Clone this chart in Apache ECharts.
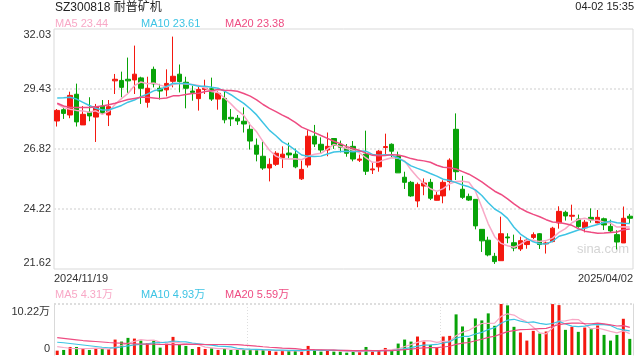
<!DOCTYPE html>
<html><head><meta charset="utf-8">
<script src="https://cdn.jsdelivr.net/npm/echarts@6/dist/echarts.min.js"></script>
<style>html,body{margin:0;padding:0;background:#fff}#c{width:640px;height:360px}</style>
</head><body><div id="c"></div>
<script>
const dates = ['2024/11/19','2024/11/20','2024/11/21','2024/11/22','2024/11/25','2024/11/26','2024/11/27','2024/11/28','2024/11/29',
'2024/12/02','2024/12/03','2024/12/04','2024/12/05','2024/12/06','2024/12/09','2024/12/10','2024/12/11','2024/12/12','2024/12/13',
'2024/12/16','2024/12/17','2024/12/18','2024/12/19','2024/12/20','2024/12/23','2024/12/24','2024/12/25','2024/12/26','2024/12/27','2024/12/30','2024/12/31',
'2025/01/02','2025/01/03','2025/01/06','2025/01/07','2025/01/08','2025/01/09','2025/01/10','2025/01/13','2025/01/14','2025/01/15','2025/01/16','2025/01/17',
'2025/01/20','2025/01/21','2025/01/22','2025/01/23','2025/01/24','2025/01/27',
'2025/02/05','2025/02/06','2025/02/07','2025/02/10','2025/02/11','2025/02/12','2025/02/13','2025/02/14','2025/02/17','2025/02/18','2025/02/19','2025/02/20','2025/02/21',
'2025/02/24','2025/02/25','2025/02/26','2025/02/27','2025/02/28',
'2025/03/03','2025/03/04','2025/03/05','2025/03/06','2025/03/07','2025/03/10','2025/03/11','2025/03/12','2025/03/13','2025/03/14','2025/03/17','2025/03/18','2025/03/19','2025/03/20','2025/03/21',
'2025/03/24','2025/03/25','2025/03/26','2025/03/27','2025/03/28','2025/03/31','2025/04/01','2025/04/02'];

const opens = [28.04,28.53,28.30,29.20,27.87,28.42,28.21,28.69,28.30,29.78,29.80,29.85,29.82,29.91,28.85,30.28,29.46,29.39,29.76,30.07,
29.72,29.34,29.01,29.41,29.44,28.99,29.02,28.20,28.16,28.03,27.68,26.99,26.51,26.00,26.16,26.45,26.65,26.60,25.53,26.13,
27.38,27.03,26.78,27.28,27.03,26.86,26.94,26.34,26.60,25.92,26.05,26.89,27.03,26.52,25.60,25.38,24.57,25.22,25.38,24.60,
24.79,25.41,27.68,25.08,24.77,24.64,23.34,22.87,22.17,21.98,23.01,22.76,22.49,22.68,22.99,23.15,22.71,22.81,23.62,24.08,
23.91,23.79,23.41,23.86,23.62,23.80,23.47,23.11,22.75,23.91];
const closes = [28.50,28.37,29.15,28.00,28.33,28.26,28.66,28.37,28.66,29.85,29.50,29.78,30.07,29.46,29.46,29.65,29.34,29.67,29.98,29.75,
29.46,29.28,29.41,29.46,28.99,29.24,28.09,28.13,28.04,27.91,27.17,26.60,26.00,26.16,26.64,26.60,26.57,26.05,25.94,27.38,
27.04,26.78,26.94,26.99,26.90,26.64,26.39,26.39,25.86,25.96,26.73,26.93,26.73,25.79,25.38,24.79,25.29,25.35,24.69,24.82,
25.38,26.34,25.84,24.73,24.61,23.49,22.84,22.23,21.94,23.15,22.97,22.53,22.85,22.87,23.11,22.68,22.75,23.39,24.12,23.92,
23.95,23.46,23.65,23.75,23.86,23.53,23.27,22.79,23.82,23.82];
const highs = [28.56,28.63,29.31,29.66,28.69,29.07,28.78,28.95,28.95,30.08,30.18,30.79,31.31,29.96,29.96,30.40,29.65,30.28,31.70,30.49,
29.96,29.57,29.53,29.83,29.92,29.33,29.33,28.56,28.30,28.63,27.97,27.28,27.15,26.42,26.73,26.94,27.10,26.84,26.32,27.64,
27.87,27.33,27.54,27.28,27.19,27.04,27.17,26.58,27.62,26.25,26.78,27.49,27.07,26.71,25.84,25.44,25.37,25.55,25.53,24.96,
25.47,26.42,28.37,25.66,24.89,24.64,23.34,23.02,22.32,23.89,23.17,23.11,23.02,22.97,23.21,23.18,22.81,23.45,24.34,24.15,
24.41,23.98,23.75,24.25,24.18,23.85,23.76,23.30,24.33,24.01];
const lows = [27.80,28.13,28.16,27.80,27.87,28.03,27.13,28.35,27.82,29.21,29.07,29.26,29.21,28.78,28.62,29.50,28.97,29.11,29.50,29.28,
28.59,28.92,28.49,29.21,28.91,28.53,27.94,27.82,27.87,27.54,26.80,26.29,25.92,25.42,26.09,26.00,26.42,25.99,25.48,26.02,
26.91,26.65,26.51,26.83,26.68,26.49,26.29,26.26,25.70,25.74,25.84,26.55,26.47,25.79,25.09,24.75,24.30,24.82,24.61,24.59,
24.47,25.03,25.48,24.66,24.57,23.34,22.36,22.17,21.84,21.98,22.74,22.39,22.40,22.50,22.92,22.49,22.29,22.78,23.37,23.72,
23.72,23.41,23.21,23.63,23.60,23.31,23.23,22.47,22.75,23.60];
// volume in 万
const volumes = [0.87,1.01,1.61,1.61,1.28,1.01,1.28,1.28,1.14,3.09,2.69,3.43,3.29,2.89,2.35,2.96,1.48,2.29,3.63,2.08,
1.82,1.21,1.61,1.21,1.34,1.01,1.21,1.01,1.01,1.01,1.01,1.01,1.01,0.81,0.67,0.87,0.87,0.87,0.67,1.82,
1.01,0.67,1.01,0.67,0.67,0.47,0.74,0.67,1.61,0.67,0.81,1.41,0.87,2.29,3.09,2.69,3.70,2.69,2.02,1.55,
3.70,3.83,8.14,5.72,3.43,7.33,6.93,8.34,5.85,10.22,9.95,5.65,4.51,2.89,4.84,4.30,4.71,10.2,10.0,5.04,
5.65,4.64,5.51,5.31,5.92,4.03,2.89,4.03,7.26,3.23];

// moving-average values for the first days (their windows start before the visible range)
const ma5Head = [28.78,28.62,28.55,28.50];
const ma10Head = [29.04,29.05,29.07,28.99,28.85,28.71,28.59,28.52,28.52];
const ma20Head = [28.81,28.69,28.63,28.62,28.62,28.63,28.66,28.69,28.74,28.81,28.89,28.97,29.02,29.07,29.07,29.04,29.01,29.04,29.13];
const vma5Head = [1.68,1.50,1.35,1.28];
const vma10Head = [2.56,2.45,2.30,2.15,2.00,1.85,1.70,1.55,1.45];
const vma20Head = [3.50,3.35,3.20,3.05,2.90,2.80,2.70,2.60,2.50,2.42,2.36,2.30,2.25,2.20,2.18,2.15,2.12,2.10,2.08];

const priceTicks = ['21.62','24.22','26.82','29.43','32.03'];
const volTicks = ['0','10.22万'];
const titleText = 'SZ300818 耐普矿机';
const timeText = '04-02 15:35';
const priceLegend = ['MA5 23.44','MA10 23.61','MA20 23.38'];
const volLegend = ['MA5 4.31万','MA10 4.93万','MA20 5.59万'];
const watermark = 'sina.com';

const yMin = 21.62, yMax = 32.03, yInt = 2.6025;
const vMax = 10.22;

function ma(arr, n, head) {
  return arr.map((v, i) => {
    if (i < head.length) return head[i];
    let s = 0; for (let j = i - n + 1; j <= i; j++) s += arr[j];
    return +(s / n).toFixed(3);
  });
}

const UP = '#f4180f', DOWN = '#08a308';
const C5 = '#f8a8c6', C10 = '#3ec4e4', C20 = '#ee4c82';
const FONT = '"Liberation Sans", Arial, "Noto Sans CJK SC", sans-serif';

const kData = opens.map((o, i) => [o, closes[i], lows[i], highs[i]]);
const volData = volumes.map((v, i) => ({ value: v, itemStyle: { color: closes[i] >= opens[i] ? UP : DOWN } }));

const chart = echarts.init(document.getElementById('c'), null, { renderer: 'canvas' });
const lineS = (name, data, color, x, y, w) => ({
  name, type: 'line', data, xAxisIndex: x, yAxisIndex: y, symbol: 'none', smooth: false,
  lineStyle: { color, width: w }, itemStyle: { color }, z: 5, silent: true, animation: false
});

const option = {
  animation: false,
  textStyle: { fontFamily: FONT },
  grid: [
    { left: 54, top: 29, width: 579, height: 240, show: true, borderColor: '#d9d9d9', borderWidth: 1 },
    { left: 54, top: 304, width: 579, height: 51 }
  ],
  xAxis: [
    { type: 'category', gridIndex: 0, position: 'bottom', data: dates, boundaryGap: true, axisLine: { show: false }, axisTick: { show: false }, axisLabel: { show: false }, splitLine: { show: false } },
    { type: 'category', gridIndex: 0, position: 'bottom', offset: 0, data: dates, boundaryGap: false, axisLine: { show: false }, axisTick: { show: false },
      axisLabel: { show: true, interval: (i) => i === 0 || i === dates.length - 1, color: '#333', fontSize: 11, fontFamily: FONT, margin: 4,
        alignMinLabel: 'left', alignMaxLabel: 'right' }, splitLine: { show: false } },
    { type: 'category', gridIndex: 1, data: dates, boundaryGap: true, axisLine: { show: false }, axisTick: { show: false }, axisLabel: { show: false },
      splitLine: { show: true, interval: (i) => i === 30 || i === 60, lineStyle: { color: '#dedede', type: [1, 2], width: 1 } } }
  ],
  yAxis: [
    { type: 'value', gridIndex: 0, min: yMin, max: yMax, interval: yInt, scale: true,
      axisLine: { show: false }, axisTick: { show: false },
      splitLine: { show: true, showMinLine: false, showMaxLine: false, lineStyle: { color: '#e6e6e6', type: [2, 2], width: 2 } },
      axisLabel: { color: '#333', fontSize: 11, fontFamily: FONT, margin: 3,
        formatter: (v) => { const k = Math.round((v - yMin) / yInt); const t = priceTicks[k];
          if (k === 0) return '{b|' + t + '}'; if (k === priceTicks.length - 1) return '{t|' + t + '}'; return t; },
        rich: { t: { padding: [11, 0, 0, 0], fontSize: 11, color: '#333', fontFamily: FONT }, b: { padding: [0, 0, 13, 0], fontSize: 11, color: '#333', fontFamily: FONT } } } },
    { type: 'value', gridIndex: 1, min: 0, max: vMax, interval: vMax,
      axisLine: { show: true, lineStyle: { color: '#d9d9d9' } }, axisTick: { show: false },
      splitLine: { show: true, showMinLine: false, lineStyle: { color: '#dedede', type: [2, 2], width: 2 } },
      axisLabel: { color: '#333', fontSize: 11, fontFamily: FONT, margin: 4,
        formatter: (v) => v > 0 ? '{t|' + volTicks[1] + '}' : '{b|' + volTicks[0] + '}',
        rich: { t: { padding: [15, 0, 0, 0], fontSize: 11, color: '#333', fontFamily: FONT }, b: { padding: [0, 0, 12, 0], fontSize: 11, color: '#333', fontFamily: FONT } } } },
    { type: 'value', gridIndex: 1, min: 0, max: vMax, interval: vMax, position: 'right',
      axisLine: { show: true, lineStyle: { color: '#d9d9d9' } }, axisTick: { show: false }, axisLabel: { show: false }, splitLine: { show: false } }
  ],
  graphic: [
    { type: 'text', x: 55, y: 8, style: { text: titleText, fill: '#222', font: '12px ' + FONT, align: 'left', verticalAlign: 'middle' } },
    { type: 'text', x: 634, y: 7, style: { text: timeText, fill: '#222', font: '11px ' + FONT, align: 'right', verticalAlign: 'middle' } },
    { type: 'text', x: 55, y: 24, style: { text: priceLegend[0], fill: C5, font: '11px ' + FONT, verticalAlign: 'middle' } },
    { type: 'text', x: 141, y: 24, style: { text: priceLegend[1], fill: C10, font: '11px ' + FONT, verticalAlign: 'middle' } },
    { type: 'text', x: 225, y: 24, style: { text: priceLegend[2], fill: C20, font: '11px ' + FONT, verticalAlign: 'middle' } },
    { type: 'text', x: 55, y: 295, style: { text: volLegend[0], fill: C5, font: '11px ' + FONT, verticalAlign: 'middle' } },
    { type: 'text', x: 141, y: 295, style: { text: volLegend[1], fill: C10, font: '11px ' + FONT, verticalAlign: 'middle' } },
    { type: 'text', x: 225, y: 295, style: { text: volLegend[2], fill: C20, font: '11px ' + FONT, verticalAlign: 'middle' } },
    { type: 'text', x: 603, y: 249, z: -1, style: { text: watermark, fill: '#d4d4d4', font: '13px ' + FONT, align: 'center', verticalAlign: 'middle' } }
  ],
  series: [
    { name: 'K', type: 'candlestick', xAxisIndex: 0, yAxisIndex: 0, data: kData, barWidth: 5,
      itemStyle: { color: UP, color0: DOWN, borderColor: UP, borderColor0: DOWN, borderWidth: 1 }, silent: true },
    lineS('MA5', ma(closes, 5, ma5Head), C5, 0, 0, 1.5),
    lineS('MA10', ma(closes, 10, ma10Head), C10, 0, 0, 1.5),
    lineS('MA20', ma(closes, 20, ma20Head), C20, 0, 0, 1.5),
    { name: 'VOL', type: 'bar', xAxisIndex: 2, yAxisIndex: 1, data: volData, barWidth: 3, silent: true },
    lineS('VMA5', ma(volumes, 5, vma5Head), C5, 2, 1, 1.2),
    lineS('VMA10', ma(volumes, 10, vma10Head), C10, 2, 1, 1.2),
    lineS('VMA20', ma(volumes, 20, vma20Head), C20, 2, 1, 1.2)
  ]
};
chart.setOption(option);
</script>
</body></html>
